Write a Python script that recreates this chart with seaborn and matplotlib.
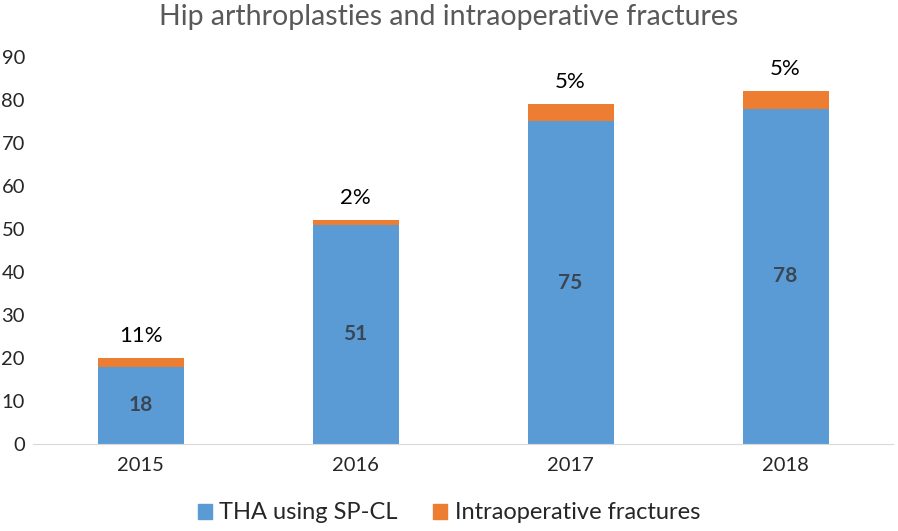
import pandas as pd
import numpy as np
import matplotlib.pyplot as plt
import seaborn as sns

years = ['2015', '2016', '2017', '2018']
tha_counts = [18, 51, 75, 78]
fracture_counts = [2, 1, 4, 4]
fracture_pct = ['11%', '2%', '5%', '5%']

sns.set_style('white')
plt.rcParams['font.family'] = ['Lato', 'DejaVu Sans']

df = pd.DataFrame({'year': years, 'tha': tha_counts, 'fract': fracture_counts})
df['total'] = df['tha'] + df['fract']

blue = '#5B9BD5'
orange = '#ED7D31'

fig = plt.figure(figsize=(8.98, 5.31), dpi=100)
ax = fig.add_axes([0.037, 0.1638, 0.9575, 0.729])

# stacked bars: totals in orange first, then the THA part in blue over it
sns.barplot(data=df, x='year', y='total', color=orange, saturation=1, width=0.4,
            linewidth=0, ax=ax)
sns.barplot(data=df, x='year', y='tha', color=blue, saturation=1, width=0.4,
            linewidth=0, ax=ax)

for i, row in df.iterrows():
    ax.text(i, row['tha'] / 2, str(row['tha']), ha='center', va='center',
            fontsize=15, fontweight='bold', color='#3A4654')
    ax.annotate(fracture_pct[i], (i, row['total']), xytext=(0, 16),
                textcoords='offset points', ha='center', va='center',
                fontsize=16, color='black')

ax.set_ylim(0, 90)
ax.set_xlim(-0.5, 3.5)
ax.set_yticks(range(0, 91, 10))
ax.set_xlabel('')
ax.set_ylabel('')
ax.tick_params(axis='both', length=0, labelsize=14.5, labelcolor='#262626')
ax.tick_params(axis='x', pad=9)
ax.tick_params(axis='y', pad=6)
for s in ['top', 'right', 'left']:
    ax.spines[s].set_visible(False)
ax.spines['bottom'].set_color('#D9D9D9')
ax.grid(False)

fig.text(0.5, 0.968, 'Hip arthroplasties and intraoperative fractures',
         ha='center', va='center', fontsize=20.5, color='#595959')

handles = [plt.Rectangle((0, 0), 1, 1, color=blue),
           plt.Rectangle((0, 0), 1, 1, color=orange)]
fig.legend(handles, ['THA using SP-CL', 'Intraoperative fractures'],
           loc='center', bbox_to_anchor=(0.5, 0.034), ncol=2, frameon=False,
           fontsize=17, handlelength=0.6, handleheight=0.6, handletextpad=0.3,
           columnspacing=1.5, labelcolor='#262626')

fig.savefig('out.png', dpi=100)
